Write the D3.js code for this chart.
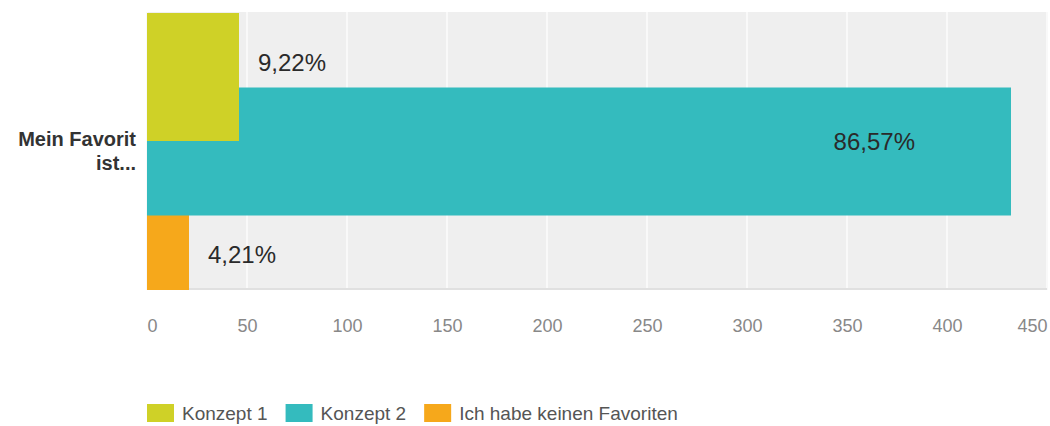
<!DOCTYPE html>
<html>
<head>
<meta charset="utf-8">
<script src="https://cdn.jsdelivr.net/npm/d3@7/dist/d3.min.js"></script>
<style>
  html, body { margin: 0; padding: 0; background: #fff; }
  svg { display: block; font-family: "Liberation Sans", Arial, sans-serif; }
</style>
</head>
<body>
<svg id="chart" width="1050" height="426"></svg>
<script>
// Survey answers: one question, three answer options
const categories = ["Mein Favorit ist..."];
const series = ["Konzept 1", "Konzept 2", "Ich habe keinen Favoriten"];
const counts = [46, 432, 21];
const xTicks = [0, 50, 100, 150, 200, 250, 300, 350, 400, 450];
const colors = ["#cfd127", "#34bbbe", "#f6a81b"];

const de = d3.formatLocale({ decimal: ",", thousands: ".", grouping: [3], currency: ["", " €"] });
const pct = de.format(".2%");
const total = d3.sum(counts);

const svg = d3.select("#chart");
const plot = { left: 147, right: 1047, top: 12, bottom: 290 };

const x = d3.scaleLinear().domain([0, 450]).range([plot.left, plot.right]);
const y = d3.scalePoint().domain(series).range([77, 226]);
const barH = 128;
const color = d3.scaleOrdinal().domain(series).range(colors);

// plot background
svg.append("rect")
  .attr("x", plot.left).attr("y", plot.top)
  .attr("width", plot.right - plot.left).attr("height", plot.bottom - plot.top)
  .attr("fill", "#efefef");

// vertical grid
svg.append("g").selectAll("line").data(xTicks).join("line")
  .attr("x1", d => x(d)).attr("x2", d => x(d))
  .attr("y1", plot.top).attr("y2", plot.bottom)
  .attr("stroke", "#f9f9f9").attr("stroke-width", 2);

// baseline
svg.append("line")
  .attr("x1", plot.left).attr("x2", plot.right)
  .attr("y1", plot.bottom - 1).attr("y2", plot.bottom - 1)
  .attr("stroke", "#e0e0e0").attr("stroke-width", 2);

// bars (overlapping; drawn last-to-first so earlier ones sit on top)
const rows = series.map((s, i) => ({ s, v: counts[i], i }));
svg.append("g").selectAll("rect").data(rows.slice().reverse()).join("rect")
  .attr("x", x(0))
  .attr("y", d => y(d.s) - barH / 2)
  .attr("width", d => x(d.v) - x(0))
  .attr("height", barH)
  .attr("fill", d => color(d.s));

// value labels
const labelDy = [-6, -1.5, 37];
svg.append("g").selectAll("text").data(rows).join("text")
  .attr("x", d => d.v > 200 ? x(d.v) - 96 : x(d.v) + 19)
  .attr("y", d => y(d.s) + labelDy[d.i])
  .attr("text-anchor", d => d.v > 200 ? "end" : "start")
  .attr("font-size", 24)
  .attr("fill", "#2a2a2a")
  .text(d => pct(d.v / total));

// category label (two lines, right aligned)
const catText = svg.append("text")
  .attr("text-anchor", "end")
  .attr("font-size", 20)
  .attr("font-weight", "bold")
  .attr("fill", "#333");
["Mein Favorit", "ist..."].forEach((t, i) => {
  catText.append("tspan").attr("x", 136).attr("y", 146 + i * 24).text(t);
});
catText.attr("data-category", categories[0]);

// x axis
const axis = svg.append("g")
  .attr("transform", `translate(0,${plot.bottom})`)
  .call(d3.axisBottom(x).tickValues(xTicks).tickSize(0).tickPadding(0));
axis.select(".domain").remove();
axis.selectAll("text")
  .attr("y", 42).attr("dy", 0)
  .attr("font-size", 18)
  .attr("font-family", "\"Liberation Sans\", Arial, sans-serif")
  .attr("fill", "#888")
  .attr("text-anchor", d => d === xTicks[0] ? "start" : d === xTicks[xTicks.length - 1] ? "end" : "middle");

// legend
const legend = svg.append("g");
let lx = 147;
series.forEach((s, i) => {
  legend.append("rect")
    .attr("x", lx).attr("y", 404).attr("width", 27).attr("height", 18)
    .attr("fill", colors[i]);
  const t = legend.append("text")
    .attr("x", lx + 35).attr("y", 420)
    .attr("font-size", 19)
    .attr("fill", "#555")
    .text(s);
  lx += 35 + t.node().getComputedTextLength() + 18;
});
</script>
</body>
</html>
